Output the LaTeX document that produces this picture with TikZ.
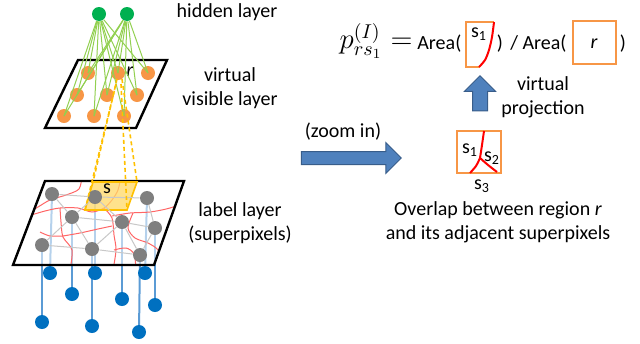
\documentclass[tikz,border=0pt]{standalone}
\usepackage[no-math]{fontspec}
\setmainfont{Carlito}
\usetikzlibrary{shapes.arrows,backgrounds}

\definecolor{hidgreen}{HTML}{00B050}
\definecolor{linkgreen}{HTML}{92D050}
\definecolor{visorange}{HTML}{F79646}
\definecolor{labgray}{HTML}{7F7F7F}
\definecolor{edgegray}{HTML}{C8C8C8}
\definecolor{pixred}{HTML}{FF6666}
\definecolor{obsblue}{HTML}{0070C0}
\definecolor{obsline}{HTML}{5B9BD5}
\definecolor{projyellow}{HTML}{FFC000}
\definecolor{projfill}{HTML}{FFD966}
\definecolor{arrowblue}{HTML}{4F81BD}
\definecolor{arrowedge}{HTML}{385D8A}

\begin{document}
\begin{tikzpicture}[x=0.5pt,y=-0.5pt,
  hid/.style={circle,fill=hidgreen,inner sep=0,minimum size=7pt},
  vis/.style={circle,fill=visorange,inner sep=0,minimum size=7pt},
  lab/.style={circle,fill=labgray,inner sep=0,minimum size=7pt},
  obs/.style={circle,fill=obsblue,inner sep=0,minimum size=7pt},
  plane/.style={draw=black,line width=1.2pt},
  link/.style={draw=linkgreen,line width=0.5pt},
  mesh/.style={draw=edgegray,line width=0.5pt},
  pixline/.style={draw=pixred,line width=0.5pt},
  obsedge/.style={draw=obsline,line width=1pt},
  projline/.style={draw=projyellow,line width=0.8pt,dash pattern=on 2pt off 1.5pt},
  boxline/.style={draw=visorange,line width=1pt},
  cutline/.style={draw=red,line width=1pt},
  blockarrow/.style={single arrow,fill=arrowblue,draw=arrowedge,line width=0.5pt}]
\useasboundingbox (0,0) rectangle (640,343);

% planes
\coordinate (PA) at (78,60);
\coordinate (PB) at (167,60);
\coordinate (PC) at (136,128);
\coordinate (PD) at (45,128);
\coordinate (QA) at (45,181);
\coordinate (QB) at (184,181);
\coordinate (QC) at (154,265);
\coordinate (QD) at (13,265);
\draw[plane] (PA)--(PB)--(PC)--(PD)--cycle;

% hidden layer
\node[hid] (HA) at (99,14) {};
\node[hid] (HB) at (127,14) {};

% virtual visible layer
\node[vis] (VA) at (88,73) {};
\node[vis] (VB) at (118,73) {};
\node[vis] (VC) at (148,73) {};
\node[vis] (VD) at (77,95) {};
\node[vis] (VE) at (107,95) {};
\node[vis] (VF) at (137,95) {};
\node[vis] (VG) at (64,116) {};
\node[vis] (VH) at (94,116) {};
\node[vis] (VI) at (124,116) {};
\node (rlab) at (130,72) {\textit{r}};

\draw[link] (HA)--(VA.center);
\draw[link] (HA)--(VB.center);
\draw[link] (HA)--(VC.center);
\draw[link] (HA)--(VD.center);
\draw[link] (HA)--(VE.center);
\draw[link] (HA)--(VF.center);
\draw[link] (HA)--(VG.center);
\draw[link] (HA)--(VH.center);
\draw[link] (HA)--(VI.center);
\draw[link] (HB)--(VA.center);
\draw[link] (HB)--(VB.center);
\draw[link] (HB)--(VC.center);
\draw[link] (HB)--(VD.center);
\draw[link] (HB)--(VE.center);
\draw[link] (HB)--(VF.center);
\draw[link] (HB)--(VG.center);
\draw[link] (HB)--(VH.center);
\draw[link] (HB)--(VI.center);

% label layer
\node[lab] (LA) at (52,194) {};
\node[lab] (LB) at (95,197) {};
\node[lab] (LC) at (147,198) {};
\node[lab] (LD) at (72,217) {};
\node[lab] (LE) at (122,222) {};
\node[lab] (LF) at (155,228) {};
\node[lab] (LG) at (42,245) {};
\node[lab] (LH) at (92,249) {};
\node[lab] (LI) at (140,255) {};

\draw[mesh] (LA)--(LB);
\draw[mesh] (LB)--(LC);
\draw[mesh] (LA)--(LD);
\draw[mesh] (LB)--(LD);
\draw[mesh] (LB)--(LE);
\draw[mesh] (LD)--(LE);
\draw[mesh] (LE)--(LF);
\draw[mesh] (LC)--(LF);
\draw[mesh] (LD)--(LG);
\draw[mesh] (LG)--(LH);
\draw[mesh] (LD)--(LH);
\draw[mesh] (LE)--(LH);
\draw[mesh] (LH)--(LI);
\draw[mesh] (LE)--(LI);
\draw[mesh] (LF)--(LI);

% observed nodes
\node[obs] (BA) at (50,273) {};
\node[obs] (BB) at (72,294) {};
\node[obs] (BC) at (95,273) {};
\node[obs] (BD) at (122,299) {};
\node[obs] (BE) at (145,273) {};
\node[obs] (BF) at (155,305) {};
\node[obs] (BG) at (42,322) {};
\node[obs] (BH) at (92,326) {};
\node[obs] (BI) at (139,332) {};

% projected region
\coordinate (RA) at (117,79);
\coordinate (RB) at (122,79);
\coordinate (RC) at (121,84);
\coordinate (RD) at (116,84);
\coordinate (YA) at (93,182);
\coordinate (YB) at (137,182);
\coordinate (YC) at (127,210);
\coordinate (YD) at (85,210);

\begin{pgfonlayer}{background}
\draw[obsedge] (BA.center)--(LA.center);
\draw[obsedge] (BB.center)--(LD.center);
\draw[obsedge] (BC.center)--(LB.center);
\draw[obsedge] (BD.center)--(LE.center);
\draw[obsedge] (BE.center)--(LC.center);
\draw[obsedge] (BF.center)--(LF.center);
\draw[obsedge] (BG.center)--(LG.center);
\draw[obsedge] (BH.center)--(LH.center);
\draw[obsedge] (BI.center)--(LI.center);
\fill[white,opacity=0.55] (QA)--(QB)--(QC)--(QD)--cycle;
\begin{scope}
\clip (QA)--(QB)--(QC)--(QD)--cycle;
\draw[pixline] plot[smooth] coordinates {(82,176) (79,189) (66,195) (50,200) (38,207) (26,214)};
\draw[pixline] plot[smooth] coordinates {(28,216) (45,211) (60,208) (78,208) (92,212) (104,208) (112,200) (118,190) (121,176)};
\draw[pixline] plot[smooth] coordinates {(60,208) (61,222) (63,237) (72,250) (70,270)};
\draw[pixline] plot[smooth] coordinates {(63,236) (80,233) (98,229) (112,226)};
\draw[pixline] plot[smooth] coordinates {(104,208) (112,218) (114,235) (116,250) (113,270)};
\draw[pixline] plot[smooth] coordinates {(112,216) (130,213) (150,212) (170,208) (192,200)};
\draw[pixline] plot[smooth] coordinates {(133,213) (128,228) (135,238) (148,243) (158,250) (161,262) (159,270)};
\draw[pixline] plot[smooth] coordinates {(114,250) (126,248) (134,254) (136,270)};
\draw[pixline] plot[smooth] coordinates {(40,232) (50,236) (63,236)};
\end{scope}
\draw[plane] (QA)--(QB)--(QC)--(QD)--cycle;
\draw[draw=projyellow,fill=projfill,fill opacity=0.75,line width=0.8pt] (YA)--(YB)--(YC)--(YD)--cycle;
\end{pgfonlayer}
\node (slab) at (107,189) {s};

\draw[projline] (RA)--(YA);
\draw[projline] (RB)--(YB);
\draw[projline] (RC)--(YC);
\draw[projline] (RD)--(YD);

% layer names
\node (hidtext) at (227,12) {hidden layer};
\node[align=center] (vistext) at (230,88) {virtual\\visible layer};
\node[align=center] (labtext) at (240,223) {label layer\\(superpixels)};

% zoom in
\node[blockarrow,minimum height=50pt,inner sep=3pt,single arrow head extend=4.5pt] (zoomarrow) at (348,158) {};
\node (zoomtext) at (343,132) {(zoom in)};

\draw[boxline] (457,131) rectangle (501,173);
\draw[cutline] plot[smooth] coordinates {(484,131) (482,145) (480,158)};
\draw[cutline] plot[smooth] coordinates {(480,158) (476,166) (470,173)};
\draw[cutline] plot[smooth] coordinates {(480,158) (488,165) (497,172)};
\node (sone) at (470,150) {s\textsubscript{1}};
\node (stwo) at (492,158) {s\textsubscript{2}};
\node (sthree) at (482,186) {s\textsubscript{3}};
\node[align=center] (overtext) at (498,222) {Overlap between region \textit{r}\\and its adjacent superpixels};

% virtual projection
\node[blockarrow,shape border rotate=90,minimum height=17.5pt,inner sep=3.5pt,single arrow head extend=4pt] (projarrow) at (480,97) {};
\node[align=center] (projtext) at (543,97) {virtual\\projection};

% ratio
\node[inner sep=0,anchor=east] (prob) at (413,41) {\Large $p^{(I)}_{rs_1} =$};
\node[inner sep=0,anchor=west] (areaone) at (417,44) {Area(};
\draw[boxline] (494,22) -- (466,22) -- (466,67) -- (480,67);
\draw[cutline] plot[smooth] coordinates {(494,22) (492,37) (489,50) (485,60) (479,67)};
\node (sbox) at (479,34) {s\textsubscript{1}};
\node (parone) at (500,44) {)};
\node[inner sep=0,anchor=west] (areatwo) at (510,44) {/ Area(};
\draw[boxline] (573,21) rectangle (616,64);
\node (rbox) at (594,44) {\textit{r}};
\node (partwo) at (623,44) {)};
\end{tikzpicture}
\end{document}
